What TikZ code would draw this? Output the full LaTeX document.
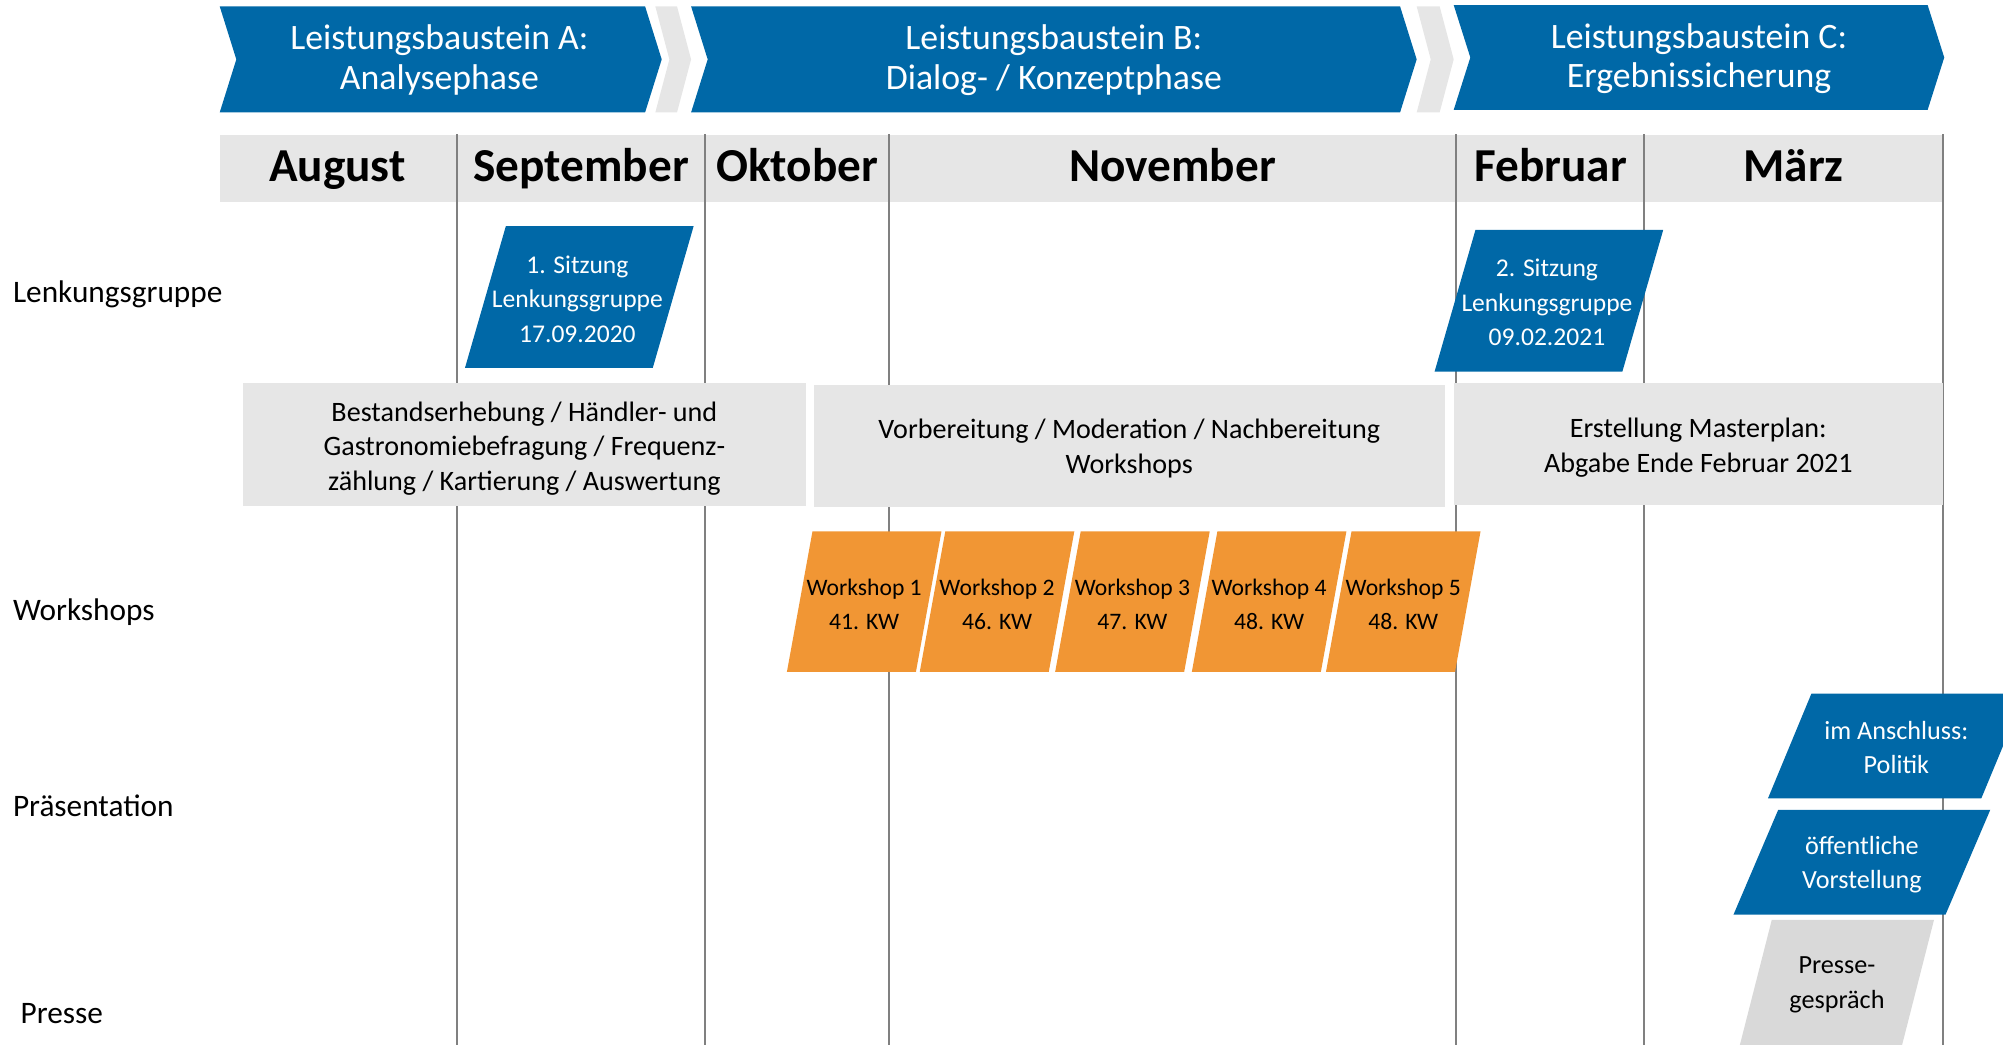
\documentclass[tikz,border=0pt]{standalone}
\usepackage{fontspec}
\setmainfont{Carlito}
\usepackage{tikz}
\usetikzlibrary{positioning}
\definecolor{lbblue}{RGB}{0,104,167}
\definecolor{wsorange}{RGB}{241,150,52}
\definecolor{lbgray}{RGB}{230,230,230}
\definecolor{prgray}{RGB}{217,217,217}
\definecolor{monthline}{RGB}{128,128,128}
\newcommand{\phasearrow}[6][13]{\fill[#6] (#2,#4) -- (#3,#4) -- ({#3+#1},{(#4+#5)/2}) -- (#3,#5) -- (#2,#5) -- ({#2+#1},{(#4+#5)/2}) -- cycle;}
\newcommand{\slantbox}[6]{\fill[#6] (#1,#3) -- ({#1+#5},#2) -- ({#1+#5+#4},#2) -- ({#1+#4},#3) -- cycle;}

\begin{document}
\begin{tikzpicture}[x=1pt,y=-1pt,
  phase/.style={text=white,align=center,font=\fontsize{28}{31}\selectfont},
  month/.style={anchor=base,font=\fontsize{37}{44}\selectfont\bfseries},
  row/.style={anchor=base west,inner sep=0pt,font=\fontsize{24.5}{29}\selectfont},
  meet/.style={text=white,align=center,font=\fontsize{20}{27}\selectfont},
  task/.style={align=center,inner sep=0pt,font=\fontsize{22}{27}\selectfont},
  ws/.style={align=center,font=\fontsize{18.5}{27}\selectfont},
  pres/.style={text=white,align=center,font=\fontsize{20.5}{27}\selectfont},
  monthsep/.style={draw=monthline,line width=1.6pt}]
\useasboundingbox (0,0) rectangle (1568,818);
\clip (0,0) rectangle (1568,818);
\phasearrow{172}{505}{5}{88}{lbblue}
\phasearrow[11]{513}{530}{5}{88}{lbgray}
\phasearrow{541}{1096}{5}{88}{lbblue}
\phasearrow[11]{1109}{1127}{5}{88}{lbgray}
\phasearrow{1138}{1509}{4}{86}{lbblue}
\node[phase] (pa) at (344,47) {Leistungsbaustein A:\\Analysephase};
\node[phase] (pb) at (825,47) {Leistungsbaustein B:\\Dialog- / Konzeptphase};
\node[phase] (pc) at (1330,46) {Leistungsbaustein C:\\Ergebnissicherung};
\fill[lbgray] (172,106) rectangle (1521,158);
\draw[monthsep] (358,105) -- (358,818);
\draw[monthsep] (552,105) -- (552,818);
\draw[monthsep] (696,105) -- (696,818);
\draw[monthsep] (1140,105) -- (1140,818);
\draw[monthsep] (1287,105) -- (1287,818);
\draw[monthsep] (1521,105) -- (1521,818);
\node[month] (aug) at (264,142) {August};
\node[month] (sep) at (455,142) {September};
\node[month] (okt) at (624,142) {Oktober};
\node[month] (nov) at (918,142) {November};
\node[month] (feb) at (1214,142) {Februar};
\node[month] (mar) at (1404,142) {März};
\node[row] (lenk) at (10,237) {Lenkungsgruppe};
\node[row] (works) at (10,486) {Workshops};
\node[row] (praes) at (10,639) {Präsentation};
\node[row] (presse) at (16,801) {Presse};
\slantbox{364}{177}{288}{147}{32}{lbblue}
\node[meet] (s1) at (452,234) {1. Sitzung\\Lenkungsgruppe\\17.09.2020};
\slantbox{1123}{180}{291}{147}{32}{lbblue}
\node[meet] (s2) at (1211,237) {2. Sitzung\\Lenkungsgruppe\\09.02.2021};
\fill[lbgray] (190,300) rectangle (631,396);
\fill[lbgray] (637,301) rectangle (1131,397);
\fill[lbgray] (1138,300) rectangle (1521,395);
\node[task] (analyse) at (410.5,351) {Bestandserhebung / Händler- und\\Gastronomiebefragung / Frequenz-\\zählung / Kartierung / Auswertung};
\node[task] (dialog) at (884,351) {Vorbereitung / Moderation / Nachbereitung\\Workshops};
\node[task] (master) at (1329.5,350.5) {Erstellung Masterplan:\\Abgabe Ende Februar 2021};
\slantbox{616}{416}{526}{101}{20}{wsorange}
\slantbox{720}{416}{526}{101}{20}{wsorange}
\slantbox{826}{416}{526}{101}{20}{wsorange}
\slantbox{933}{416}{526}{101}{20}{wsorange}
\slantbox{1038}{416}{526}{101}{20}{wsorange}
\node[ws] (ws1) at (676.5,473) {Workshop 1\\41. KW};
\node[ws] (ws2) at (780.5,473) {Workshop 2\\46. KW};
\node[ws] (ws3) at (886.5,473) {Workshop 3\\47. KW};
\node[ws] (ws4) at (993.5,473) {Workshop 4\\48. KW};
\node[ws] (ws5) at (1098.5,473) {Workshop 5\\48. KW};
\slantbox{1384}{543}{625}{167}{34}{lbblue}
\node[pres] (pol) at (1484.5,585) {im Anschluss:\\Politik};
\slantbox{1357}{634}{716}{166}{35}{lbblue}
\node[pres] (vorst) at (1457.5,677) {öffentliche\\Vorstellung};
\slantbox{1362}{720}{818}{127}{25}{prgray}
\node[pres,text=black] (pg) at (1438,771) {Presse-\\gespräch};
\end{tikzpicture}
\end{document}
